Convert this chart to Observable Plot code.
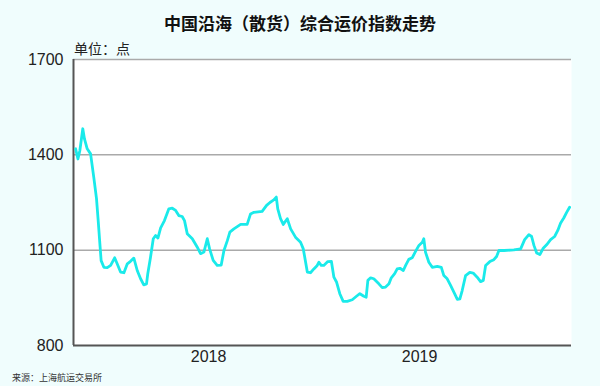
<!DOCTYPE html>
<html>
<head>
<meta charset="utf-8">
<script src="https://cdn.jsdelivr.net/npm/d3@7"></script>
<script src="https://cdn.jsdelivr.net/npm/@observablehq/plot@0.6"></script>
<style>
  html, body { margin: 0; padding: 0; }
  body { width: 600px; height: 386px; background: #f0fdfd; position: relative; overflow: hidden; font-family: "Noto Sans CJK SC", "Liberation Sans", sans-serif; }
  #title { position: absolute; left: 0; width: 600px; top: 10px; text-align: center; font-size: 17px; font-weight: bold; color: #111; }
  #subtitle { position: absolute; left: 74px; top: 38px; font-size: 14px; color: #222; }
  #source { position: absolute; left: 12px; top: 371px; font-size: 9px; color: #333; }
  #chart { position: absolute; left: 0; top: 0; }
</style>
</head>
<body>
<div id="chart"></div>
<div id="title">中国沿海（散货）综合运价指数走势</div>
<div id="subtitle">单位：点</div>
<div id="source">来源：上海航运交易所</div>
<script>
// time as decimal year
const times = [2017.870,2017.881,2017.890,2017.904,2017.912,2017.925,2017.941,2017.956,2017.969,2017.977,2017.985,2017.991,
2018.004,2018.020,2018.036,2018.055,2018.067,2018.083,2018.099,2018.115,2018.130,2018.146,2018.162,2018.178,2018.193,2018.206,
2018.212,2018.225,2018.238,2018.249,2018.260,2018.273,2018.291,2018.312,2018.328,2018.344,2018.359,2018.375,2018.386,2018.399,
2018.423,2018.446,2018.462,2018.478,2018.494,2018.505,2018.522,2018.541,2018.560,2018.573,2018.589,2018.601,2018.620,2018.652,
2018.683,2018.699,2018.715,2018.754,2018.775,2018.791,2018.809,2018.821,2018.828,2018.841,2018.854,2018.873,2018.889,2018.912,
2018.936,2018.949,2018.960,2018.968,2018.983,2018.999,2019.015,2019.023,2019.034,2019.046,2019.065,2019.082,2019.094,2019.107,
2019.122,2019.138,2019.157,2019.181,2019.201,2019.217,2019.236,2019.247,2019.255,2019.268,2019.283,2019.307,2019.323,2019.339,
2019.355,2019.366,2019.382,2019.394,2019.407,2019.423,2019.434,2019.449,2019.465,2019.481,2019.497,2019.513,2019.520,2019.528,
2019.544,2019.560,2019.584,2019.603,2019.615,2019.631,2019.647,2019.666,2019.679,2019.691,2019.702,2019.718,2019.738,2019.754,
2019.773,2019.789,2019.802,2019.813,2019.833,2019.852,2019.865,2019.876,2019.900,2019.947,2019.979,2019.998,2020.018,2020.031,
2020.042,2020.055,2020.070,2020.086,2020.102,2020.121,2020.140,2020.155,2020.168,2020.184,2020.197,2020.211];
const values = [1419,1387,1413,1482,1450,1419,1403,1330,1262,1193,1120,1067,
1046,1045,1052,1076,1057,1031,1029,1057,1065,1075,1036,1010,991,994,
1026,1078,1136,1146,1138,1170,1193,1230,1232,1225,1209,1206,1193,1152,
1136,1110,1089,1094,1136,1104,1068,1052,1053,1099,1130,1157,1167,1181,
1181,1214,1219,1222,1241,1250,1258,1267,1230,1199,1181,1199,1167,1141,
1125,1104,1062,1031,1029,1041,1052,1062,1052,1052,1064,1065,1015,999,
963,939,939,944,955,963,955,952,1005,1013,1010,994,982,984,
994,1013,1026,1041,1043,1036,1052,1071,1076,1096,1115,1125,1136,1094,
1062,1046,1049,1046,1020,1010,989,963,945,947,973,1020,1030,1028,
1015,1001,1005,1052,1064,1070,1080,1099,1099,1101,1104,1133,1149,1143,
1115,1091,1086,1106,1117,1133,1143,1162,1185,1202,1219,1235];
const yTicks = [800, 1100, 1400, 1700];
const xTicks = [2018.5, 2019.5];
const xTickLabels = ["2018", "2019"];
const xDomain = [2017.86, 2020.22];

const data = times.map((t, i) => ({t, v: values[i]}));

const chart = Plot.plot({
  width: 600,
  height: 386,
  marginLeft: 73,
  marginRight: 29,
  marginTop: 59,
  marginBottom: 41,
  style: {background: "transparent", fontFamily: "'Liberation Sans', Arial, sans-serif", fontSize: "16px", color: "#222"},
  x: {type: "linear", domain: xDomain, label: null},
  y: {domain: [800, 1700], label: null},
  marks: [
    Plot.frame({fill: "white", stroke: null}),
    Plot.ruleY(yTicks.slice(1), {stroke: "#aaa", strokeWidth: 1.5}),
    Plot.ruleY([800], {stroke: "#555", strokeWidth: 2}),
    Plot.ruleX([xDomain[0]], {stroke: "#555", strokeWidth: 2}),
    Plot.line(data, {x: "t", y: "v", stroke: "#1aeaea", strokeWidth: 2.8}),
    Plot.axisY({ticks: yTicks, tickSize: 0, tickPadding: 10, label: null, tickFormat: d => String(d)}),
    Plot.axisX({ticks: xTicks, tickSize: 0, tickPadding: 5, label: null, tickFormat: d => xTickLabels[xTicks.indexOf(d)]})
  ]
});
document.getElementById("chart").appendChild(chart);
</script>
</body>
</html>
